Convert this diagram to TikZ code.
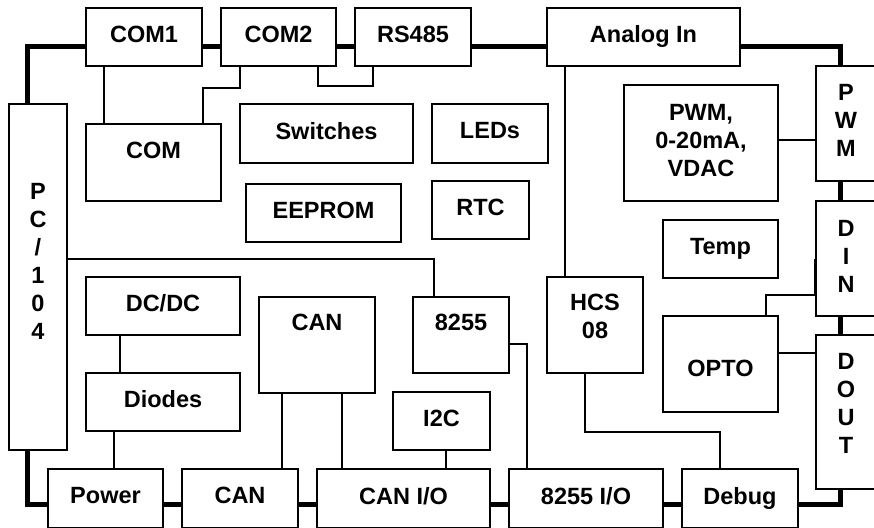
\documentclass[tikz,border=0pt]{standalone}
\usepackage{fontspec}
\setmainfont{Liberation Sans}
\usepackage{tikz}
\usetikzlibrary{calc}

\begin{document}
\begin{tikzpicture}[
  x=1pt, y=-1pt,
  every node/.style={font=\bfseries\fontsize{23.5}{28}\selectfont},
  box/.style={rectangle, draw=black, line width=1.8pt, align=center,
              inner sep=0pt, text depth=6pt},
  tall/.style={rectangle, draw=black, line width=1.8pt, align=center,
               inner sep=0pt},
  bus/.style={line width=5pt, draw=black},
  wire/.style={line width=1.4pt, draw=black}
]
\useasboundingbox (0,0) rectangle (874,527);
\clip (0,0) rectangle (874,527);

% top row
\node[box, minimum width=116pt, minimum height=58pt] (com1) at (144,37) {COM1};
\node[box, minimum width=115pt, minimum height=58pt] (com2) at (278.5,37) {COM2};
\node[box, minimum width=116pt, minimum height=58pt] (rs) at (413,37) {RS485};
\node[box, minimum width=193pt, minimum height=58pt] (ain) at (643.5,37) {Analog In};

% right edge
\node[tall, minimum width=60pt, minimum height=115pt, text depth=7pt] (pwm) at (846,123.5) {P\\W\\M};
\node[tall, minimum width=60pt, minimum height=115pt, text depth=5pt] (din) at (846,258.5) {D\\I\\N};
\node[tall, minimum width=60pt, minimum height=154pt, text depth=18pt] (dout) at (846,412) {D\\O\\U\\T};

% left edge
\node[tall, minimum width=58pt, minimum height=346pt, text depth=32pt] (pc) at (38,277) {P\\C\\/\\1\\0\\4};

% inner blocks
\node[box, minimum width=135pt, minimum height=77pt, text depth=25pt] (com) at (153.5,162.5) {COM};
\node[box, minimum width=173pt, minimum height=59pt] (sw) at (326.5,133.5) {Switches};
\node[box, minimum width=116pt, minimum height=59pt] (leds) at (490,133.5) {LEDs};
\node[box, minimum width=155pt, minimum height=58pt] (eeprom) at (323.5,213) {EEPROM};
\node[box, minimum width=97pt, minimum height=58pt] (rtc) at (480.5,210) {RTC};
\node[tall, minimum width=154pt, minimum height=116pt, text depth=5pt] (pwmdac) at (701,143) {PWM,\\0-20mA,\\VDAC};
\node[box, minimum width=115pt, minimum height=58pt] (temp) at (720.5,249) {Temp};
\node[box, minimum width=115pt, minimum height=96pt, text height=25pt, text depth=0pt] (opto) at (720.5,364) {OPTO};
\node[tall, minimum width=96pt, minimum height=96pt, text depth=18pt] (hcs) at (595,325) {HCS\\08};
\node[box, minimum width=154pt, minimum height=58pt] (dcdc) at (163,306) {DC/DC};
\node[box, minimum width=116pt, minimum height=96pt, text depth=46pt] (canu) at (317,345) {CAN};
\node[box, minimum width=96pt, minimum height=76pt, text depth=26pt] (ic) at (461,335) {8255};
\node[box, minimum width=154pt, minimum height=58pt] (diodes) at (163,402) {Diodes};
\node[box, minimum width=97pt, minimum height=58pt] (i2c) at (441.5,421) {I2C};

% bottom row
\node[box, minimum width=115pt, minimum height=59pt] (power) at (105.5,498.5) {Power};
\node[box, minimum width=116pt, minimum height=59pt] (can) at (240,498.5) {CAN};
\node[box, minimum width=173pt, minimum height=59pt] (canio) at (403.5,498.5) {CAN I/O};
\node[box, minimum width=154pt, minimum height=59pt] (icio) at (586,498.5) {8255 I/O};
\node[box, minimum width=116pt, minimum height=59pt] (debug) at (740,498.5) {Debug};

% bus
\draw[bus] ([xshift=19pt]pc.north west) |- ([yshift=-10pt]com1.west);
\draw[bus] ([yshift=-10pt]com1.east) -- ([yshift=-10pt]com2.west);
\draw[bus] ([yshift=-10pt]com2.east) -- ([yshift=-10pt]rs.west);
\draw[bus] ([yshift=-10pt]rs.east) -- ([yshift=-10pt]ain.west);
\draw[bus] ([yshift=-10pt]ain.east) -| ([xshift=25pt]pwm.north west);
\draw[bus] ([xshift=25pt]pwm.south west) -- ([xshift=25pt]din.north west);
\draw[bus] ([xshift=25pt]din.south west) -- ([xshift=25pt]dout.north west);
\draw[bus] ([xshift=25pt]dout.south west) |- ([yshift=-6pt]debug.east);
\draw[bus] ([xshift=19pt]pc.south west) |- ([yshift=-6pt]power.west);
\draw[bus] ([yshift=-6pt]power.east) -- ([yshift=-6pt]can.west);
\draw[bus] ([yshift=-6pt]can.east) -- ([yshift=-6pt]canio.west);
\draw[bus] ([yshift=-6pt]canio.east) -- ([yshift=-6pt]icio.west);
\draw[bus] ([yshift=-6pt]icio.east) -- ([yshift=-6pt]debug.west);

% wires
\draw[wire] ([xshift=19pt]com1.south west) -- ([xshift=19pt]com1.south west |- com.north);
\draw[wire] ([xshift=20pt]com2.south west) -- ++(0,21) -| ([xshift=-19pt]com.north east);
\draw[wire] ([xshift=-19pt]com2.south east) -- ++(0,19) -| ([xshift=19pt]rs.south west);
\draw[wire] ([xshift=19pt]ain.south west) -- ([xshift=19pt]ain.south west |- hcs.north);
\draw[wire] ([yshift=3pt]pwmdac.east) -- ([yshift=3pt]pwmdac.east -| pwm.west);
\draw[wire] ([xshift=-13pt]opto.north east) -- ++(0,-20) -| (din.west);
\draw[wire] ([yshift=11pt]opto.east) -- ([yshift=11pt]opto.east -| dout.west);
\draw[wire] ([xshift=39pt]hcs.south west) -- ++(0,58) -| ([xshift=39pt]debug.north west);
\draw[wire] ([yshift=-9pt]ic.east) -| ([xshift=19pt]icio.north west);
\draw[wire] ([yshift=18pt]pc.east) -| ([xshift=22pt]ic.north west);
\draw[wire] ([xshift=35pt]dcdc.south west) -- ([xshift=35pt]dcdc.south west |- diodes.north);
\draw[wire] ([xshift=29pt]diodes.south west) -- ([xshift=29pt]diodes.south west |- power.north);
\draw[wire] ([xshift=24pt]canu.south west) -- ([xshift=24pt]canu.south west |- can.north);
\draw[wire] ([xshift=-34pt]canu.south east) -- ([xshift=-34pt]canu.south east |- canio.north);
\draw[wire] ([xshift=54pt]i2c.south west) -- ([xshift=54pt]i2c.south west |- canio.north);
\end{tikzpicture}
\end{document}
